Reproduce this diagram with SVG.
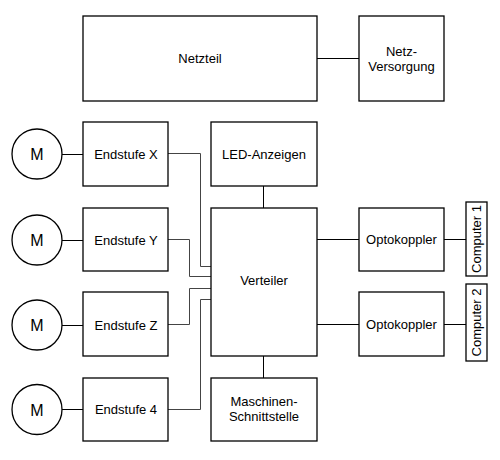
<svg xmlns="http://www.w3.org/2000/svg" width="500" height="460" viewBox="0 0 500 460">
<style>
.b{fill:#fff;stroke:#000;stroke-width:1.3}
.t{font-family:"Liberation Sans",Arial,sans-serif;font-size:13px;fill:#000;text-anchor:middle}
.m{font-size:16px}
.c{fill:none;stroke:#000;stroke-width:1}
.g{fill:none;stroke:#444;stroke-width:1}
</style>
<rect width="500" height="460" fill="#fff"/>
<g id="connectors">
<path class="c" d="M317 58.5H359"/>
<path class="c" d="M62 154.5H83M62 240.5H83M62 325.5H83M62 409.5H83"/>
<path class="g" d="M168 153.5H200.5V266.5H211"/>
<path class="g" d="M168 239.5H189.5V276.5H211"/>
<path class="g" d="M168 324.5H189.5V288.5H211"/>
<path class="g" d="M168 409.5H200.5V299.5H211"/>
<path class="c" d="M263.5 186V208M263.5 356V378"/>
<path class="c" d="M317 239.5H359M317 324.5H359"/>
<path class="c" d="M444 239.5H466M444 324.5H466"/>
</g>
<g id="netzteil"><rect class="b" x="83" y="16" width="234" height="85"/><text class="t" x="200" y="63">Netzteil</text></g>
<g id="netzversorgung"><rect class="b" x="359" y="16" width="85" height="85"/><text class="t" x="401.5" y="56">Netz-</text><text class="t" x="401.5" y="71">Versorgung</text></g>
<g id="m1"><circle class="b" cx="37" cy="154" r="25"/><text class="t m" x="37" y="160">M</text></g>
<g id="m2"><circle class="b" cx="37" cy="240" r="25"/><text class="t m" x="37" y="246">M</text></g>
<g id="m3"><circle class="b" cx="37" cy="325" r="25"/><text class="t m" x="37" y="331">M</text></g>
<g id="m4"><circle class="b" cx="37" cy="409.5" r="25"/><text class="t m" x="37" y="415.5">M</text></g>
<g id="endstufe-x"><rect class="b" x="83" y="122" width="85" height="64"/><text class="t" x="126" y="159">Endstufe X</text></g>
<g id="endstufe-y"><rect class="b" x="83" y="208" width="85" height="63"/><text class="t" x="126" y="245">Endstufe Y</text></g>
<g id="endstufe-z"><rect class="b" x="83" y="292" width="85" height="64"/><text class="t" x="126" y="330">Endstufe Z</text></g>
<g id="endstufe-4"><rect class="b" x="83" y="378" width="85" height="63"/><text class="t" x="126" y="414">Endstufe 4</text></g>
<g id="led"><rect class="b" x="211" y="122" width="106" height="64"/><text class="t" x="264" y="159">LED-Anzeigen</text></g>
<g id="verteiler"><rect class="b" x="211" y="208" width="106" height="148"/><text class="t" x="264" y="285">Verteiler</text></g>
<g id="maschinen"><rect class="b" x="211" y="378" width="106" height="63"/><text class="t" x="264" y="406">Maschinen-</text><text class="t" x="264" y="421">Schnittstelle</text></g>
<g id="opto1"><rect class="b" x="359" y="208" width="85" height="63"/><text class="t" x="401.5" y="244">Optokoppler</text></g>
<g id="opto2"><rect class="b" x="359" y="292" width="85" height="64"/><text class="t" x="401.5" y="329">Optokoppler</text></g>
<g id="computer1"><rect class="b" x="466" y="202" width="21" height="74"/><text class="t" transform="translate(481,239) rotate(-90)">Computer 1</text></g>
<g id="computer2"><rect class="b" x="466" y="284" width="21" height="77"/><text class="t" transform="translate(481,322.5) rotate(-90)">Computer 2</text></g>
</svg>
